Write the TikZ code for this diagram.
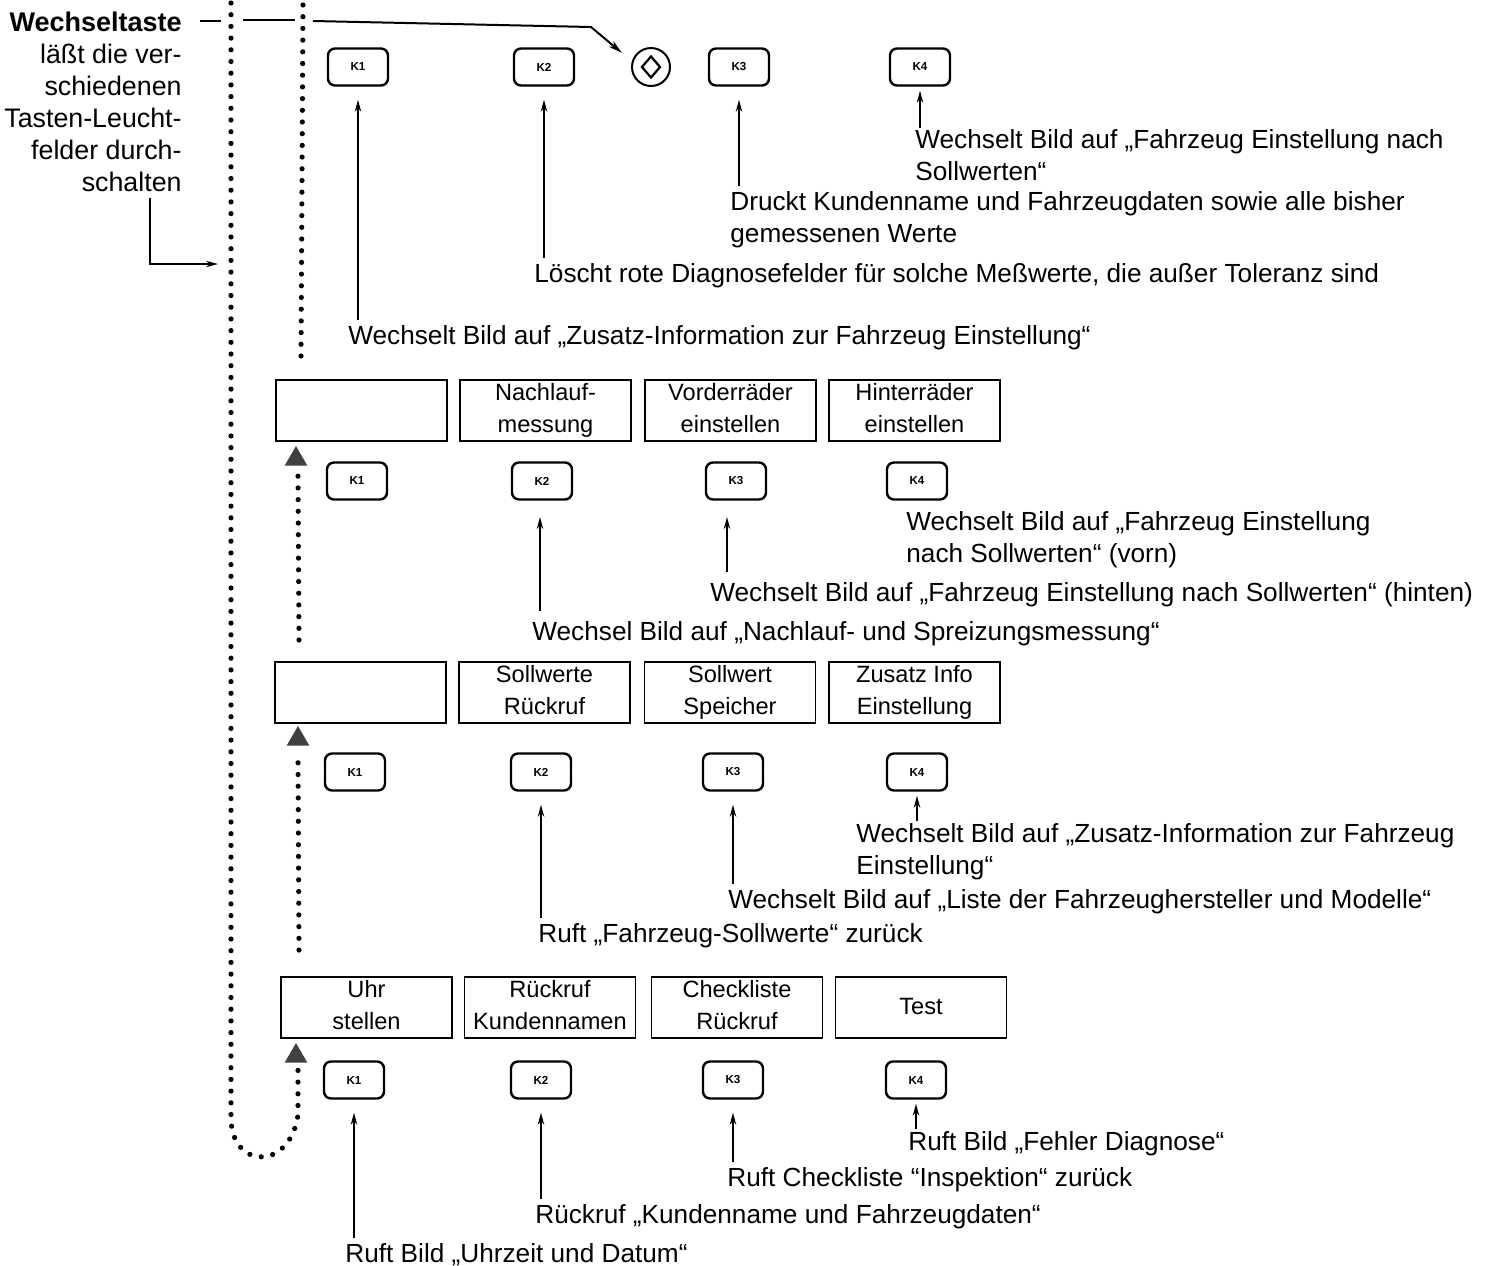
\documentclass[tikz,border=0pt]{standalone}
\usepackage{fontspec}
\setmainfont{Liberation Sans}
\usetikzlibrary{arrows.meta,shapes.geometric}
\tikzset{
    note/.style={anchor=west,yshift=-0.8pt,inner sep=0pt,align=left,font=\fontsize{13.1}{16}\selectfont},
    side/.style={anchor=east,inner sep=0pt,align=right,font=\fontsize{13.4}{16}\selectfont},
    softkey/.style={draw,line width=1.2pt,rounded corners=3.5pt,minimum width=30pt,minimum height=18.5pt,inner sep=0pt,font=\fontsize{5.8}{6}\selectfont\bfseries},
    field/.style={draw,line width=0.7pt,minimum width=85.5pt,minimum height=30.5pt,inner sep=0pt,align=center,font=\fontsize{11.8}{16}\selectfont,execute at begin node={\rule{0pt}{12.2pt}},execute at end node={\rule[-2.8pt]{0pt}{2.8pt}}},
    lead/.style={line width=0.9pt,-{Stealth[length=6pt,width=3.2pt]},shorten >=6.5pt},
    leadshort/.style={line width=0.9pt,-{Stealth[length=6pt,width=3.2pt]},shorten >=2pt},
    dots/.style={line width=2.6pt,line cap=round,dash pattern=on 0pt off 5.85pt},
    mark up/.style={regular polygon,regular polygon sides=3,fill=black!75,inner sep=0pt,minimum size=13pt}
}
\begin{document}
\begin{tikzpicture}[x=0.5pt,y=-0.5pt]
    \useasboundingbox (0,0) rectangle (1506,1265);

    % left column
    \node[side,font=\fontsize{13.5}{16}\selectfont\bfseries] (shift) at (182,22) {Wechseltaste};
    \node[side] (shifttext) at (182,118) {läßt die ver-\\schiedenen\\Tasten-Leucht-\\felder durch-\\schalten};
    \coordinate (shiftin) at (218,264);
    \draw[line width=0.9pt,-{Stealth[length=6pt,width=3.2pt]}] (150,198) -- (150,264) -- (shiftin);

    % dotted paths
    \coordinate (outerup) at (231,3);
    \coordinate (innerup) at (303,5);
    \node[mark up] (markA) at (296,459) {};
    \node[mark up] (markB) at (298,739) {};
    \node[mark up] (markC) at (296,1056) {};
    \draw[dots] (outerup) -- (231,1120) .. controls (233,1170) and (290,1170) .. (298,1115) -- (298,1070);
    \draw[dots] (innerup) -- (301,360);
    \draw[dots] (299,640) -- (298,474);
    \draw[dots] (299,950) -- (298,755);

    % top row
    \node[softkey] (keyAa) at (358,67) {K1};
    \node[softkey] (keyAb) at (544,67) {K2};
    \node[draw,circle,line width=1pt,minimum size=19pt,inner sep=0pt] (shiftkey) at (651,67) {};
    \node[draw,diamond,line width=1.1pt,minimum width=9.5pt,minimum height=11pt,inner sep=0pt] (shiftsign) at (shiftkey) {};
    \node[softkey] (keyAc) at (739,67) {K3};
    \node[softkey] (keyAd) at (920,67) {K4};
    \node[note] (noteAd) at (915,154) {Wechselt Bild auf „Fahrzeug Einstellung nach\\Sollwerten“};
    \node[note] (noteAc) at (730,218) {Druckt Kundenname und Fahrzeugdaten sowie alle bisher\\gemessenen Werte};
    \node[note] (noteAb) at (534,274) {Löscht rote Diagnosefelder für solche Meßwerte, die außer Toleranz sind};
    \node[note] (noteAa) at (348,336) {Wechselt Bild auf „Zusatz-Information zur Fahrzeug Einstellung“};
    \draw[lead] (keyAa |- noteAa.north) ++(0,-5) -- (keyAa);
    \draw[lead] (keyAb |- noteAb.north) ++(0,-5) -- (keyAb);
    \draw[lead] (keyAc |- noteAc.north) ++(0,-5) -- (keyAc);
    \draw[leadshort] (keyAd |- noteAd.north) ++(0,-2) -- (keyAd.south);
    \draw[line width=1pt] (shift.east) ++(18,-1) -- (221,21);
    \draw[line width=1pt] (243,20) -- (295,20);
    \draw[line width=1pt,-{Stealth[length=7pt,width=3.6pt]}] (313,21) -- (591,27) -- ([xshift=-7.5pt]shiftkey.north west);

    % second row
    \node[field] (fieldBa) at (361.5,410.5) {};
    \node[field] (fieldBb) at (545.5,410.5) {Nachlauf-\\messung};
    \node[field] (fieldBc) at (730.5,410.5) {Vorderräder\\einstellen};
    \node[field] (fieldBd) at (914.5,410.5) {Hinterräder\\einstellen};
    \node[softkey] (keyBa) at (357,481) {K1};
    \node[softkey] (keyBb) at (542,481) {K2};
    \node[softkey] (keyBc) at (736,481) {K3};
    \node[softkey] (keyBd) at (917,481) {K4};
    \node[note] (noteBd) at (906,538) {Wechselt Bild auf „Fahrzeug Einstellung\\nach Sollwerten“ (vorn)};
    \node[note] (noteBc) at (710,593) {Wechselt Bild auf „Fahrzeug Einstellung nach Sollwerten“ (hinten)};
    \node[note] (noteBb) at (532,632) {Wechsel Bild auf „Nachlauf- und Spreizungsmessung“};
    \draw[lead,shorten >=18pt] ([xshift=-1pt]keyBb |- noteBb.north) ++(0,-10) -- ([xshift=-1pt]keyBb.center);
    \draw[lead,shorten >=18pt] ([xshift=-4.5pt]keyBc |- noteBc.north) ++(0,-10) -- ([xshift=-4.5pt]keyBc.center);

    % third row
    \node[field] (fieldCa) at (360.5,692.5) {};
    \node[field] (fieldCb) at (544.5,692.5) {Sollwerte\\Rückruf};
    \node[field] (fieldCc) at (730,692.5) {Sollwert\\Speicher};
    \node[field] (fieldCd) at (914.5,692.5) {Zusatz Info\\Einstellung};
    \node[softkey] (keyCa) at (355,772) {K1};
    \node[softkey] (keyCb) at (541,772) {K2};
    \node[softkey] (keyCc) at (733,772) {K3};
    \node[softkey] (keyCd) at (917,772) {K4};
    \node[note] (noteCd) at (856,850) {Wechselt Bild auf „Zusatz-Information zur Fahrzeug\\Einstellung“};
    \node[note] (noteCc) at (728,900) {Wechselt Bild auf „Liste der Fahrzeughersteller und Modelle“};
    \node[note] (noteCb) at (538,934) {Ruft „Fahrzeug-Sollwerte“ zurück};
    \draw[lead] (keyCb |- noteCb.north) ++(0,-5) -- (keyCb);
    \draw[lead] (keyCc |- noteCc.north) ++(0,-5) -- (keyCc);
    \draw[leadshort] (keyCd |- noteCd.north) ++(0,-2) -- (keyCd.south);

    % bottom row
    \node[field] (fieldDa) at (366.5,1007.5) {Uhr\\stellen};
    \node[field] (fieldDb) at (550,1007.5) {Rückruf\\Kundennamen};
    \node[field] (fieldDc) at (737,1007.5) {Checkliste\\Rückruf};
    \node[field,execute at begin node={\strut},execute at end node={\strut}] (fieldDd) at (921,1007.5) {Test};
    \node[softkey] (keyDa) at (354,1080) {K1};
    \node[softkey] (keyDb) at (541,1080) {K2};
    \node[softkey] (keyDc) at (733,1080) {K3};
    \node[softkey] (keyDd) at (916,1080) {K4};
    \node[note] (noteDd) at (908,1142) {Ruft Bild „Fehler Diagnose“};
    \node[note] (noteDc) at (727,1178) {Ruft Checkliste “Inspektion“ zurück};
    \node[note] (noteDb) at (535,1215) {Rückruf „Kundenname und Fahrzeugdaten“};
    \node[note] (noteDa) at (345,1253) {Ruft Bild „Uhrzeit und Datum“};
    \draw[lead] (keyDa |- noteDa.north) ++(0,-5) -- (keyDa);
    \draw[lead] (keyDb |- noteDb.north) ++(0,-5) -- (keyDb);
    \draw[lead] (keyDc |- noteDc.north) ++(0,-5) -- (keyDc);
    \draw[leadshort] (keyDd |- noteDd.north) ++(0,-2) -- (keyDd.south);
\end{tikzpicture}
\end{document}
